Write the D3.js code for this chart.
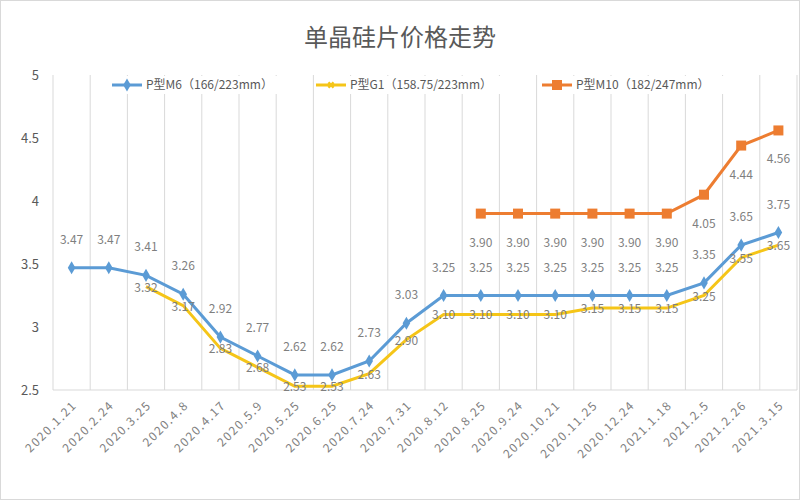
<!DOCTYPE html>
<html>
<head>
<meta charset="utf-8">
<script src="https://cdn.jsdelivr.net/npm/d3@7"></script>
<style>
body { margin: 0; background: #fff; }
text { font-family: "Noto Sans CJK SC", "Noto Sans", sans-serif; }
</style>
</head>
<body>
<svg id="chart" width="800" height="500"></svg>
<script>
const dates = ['2020.1.21', '2020.2.24', '2020.3.25', '2020.4.8', '2020.4.17', '2020.5.9', '2020.5.25',
	'2020.6.25', '2020.7.24', '2020.7.31', '2020.8.12', '2020.8.25', '2020.9.24', '2020.10.21',
	'2020.11.25', '2020.12.24', '2021.1.18', '2021.2.5', '2021.2.26', '2021.3.15'];
const m6 = [3.47, 3.47, 3.41, 3.26, 2.92, 2.77, 2.62, 2.62, 2.73, 3.03, 3.25, 3.25, 3.25, 3.25, 3.25, 3.25, 3.25, 3.35, 3.65, 3.75];
const g1 = [null, null, 3.32, 3.17, 2.83, 2.68, 2.53, 2.53, 2.63, 2.90, 3.10, 3.10, 3.10, 3.10, 3.15, 3.15, 3.15, 3.25, 3.55, 3.65];
const m10 = [null, null, null, null, null, null, null, null, null, null, null, 3.90, 3.90, 3.90, 3.90, 3.90, 3.90, 4.05, 4.44, 4.56];
const yTicks = [2.5, 3, 3.5, 4, 4.5, 5];

const series = [
	{ name: 'P型M6（166/223mm）', values: m6, color: '#5b9bd5', marker: 'diamond', dy: -24 },
	{ name: 'P型G1（158.75/223mm）', values: g1, color: '#f5c518', marker: 'star', dy: 5 },
	{ name: 'P型M10（182/247mm）', values: m10, color: '#ed7d31', marker: 'square', dy: 33 }
];

const svg = d3.select('#chart');
svg.append('rect').attr('x', 0.5).attr('y', 0.5).attr('width', 799).attr('height', 499)
	.attr('fill', '#fff').attr('stroke', '#d9d9d9');

svg.append('text').attr('x', 400).attr('y', 46).attr('text-anchor', 'middle')
	.attr('font-size', 24).attr('fill', '#595959').text('单晶硅片价格走势');

const left = 53, right = 797;
const x = d3.scaleBand().domain(dates).range([left, right]);
const y = d3.scaleLinear().domain([2.5, 5]).range([390, 75]);
const cx = d => x(d) + x.bandwidth() / 2;

// vertical gridlines between categories
svg.append('g').selectAll('line').data(dates.concat(['end']))
	.join('line')
	.attr('x1', (d, i) => left + i * x.step())
	.attr('x2', (d, i) => left + i * x.step())
	.attr('y1', y(5)).attr('y2', y(2.5))
	.attr('stroke', '#d9d9d9');

svg.append('line').attr('x1', left).attr('x2', right).attr('y1', y(2.5)).attr('y2', y(2.5)).attr('stroke', '#d9d9d9');

const yAxis = svg.append('g').attr('transform', `translate(${left},0)`)
	.call(d3.axisLeft(y).tickValues(yTicks).tickSize(0).tickPadding(14).tickFormat(d3.format('')));
yAxis.select('.domain').remove();
yAxis.selectAll('text').attr('font-size', 13).attr('fill', '#595959');

// x labels
svg.append('g').selectAll('text').data(dates).join('text')
	.attr('transform', d => `translate(${cx(d) + 6},${y(2.5) + 16}) rotate(-45)`)
	.attr('text-anchor', 'end').attr('font-size', 12).attr('fill', '#808080')
	.attr('letter-spacing', 1.5).text(d => d);

const line = d3.line().defined(d => d.v != null).x(d => cx(d.k)).y(d => y(d.v));

function drawMarker(g, type, color, px, py) {
	if (type === 'diamond') {
		g.append('path').attr('d', d3.symbol(d3.symbolDiamond, 50)()).attr('transform', `translate(${px},${py})`).attr('fill', color);
	} else if (type === 'square') {
		g.append('rect').attr('x', px - 5).attr('y', py - 5).attr('width', 10).attr('height', 10).attr('fill', color);
	} else {
		g.append('path').attr('d', d3.symbol(d3.symbolCross, 30)()).attr('transform', `translate(${px},${py}) rotate(45)`).attr('fill', color);
	}
}

series.forEach(s => {
	const pts = dates.map((k, i) => ({ k, v: s.values[i] }));
	svg.append('path').datum(pts).attr('d', line).attr('fill', 'none')
		.attr('stroke', s.color).attr('stroke-width', 3);
	const g = svg.append('g');
	pts.filter(p => p.v != null).forEach(p => {
		if (s.marker !== 'star') drawMarker(g, s.marker, s.color, cx(p.k), y(p.v));
	});
});

series.forEach(s => {
	dates.forEach((k, i) => {
		const v = s.values[i];
		if (v == null) return;
		svg.append('text').attr('x', cx(k)).attr('y', y(v) + s.dy)
			.attr('text-anchor', 'middle').attr('font-size', 12).attr('fill', '#7f7f7f')
			.text(v.toFixed(2));
	});
});

// legend
const legend = svg.append('g').attr('transform', 'translate(112,85)');
const lx = [0, 204, 430];
series.forEach((s, i) => {
	const g = legend.append('g').attr('transform', `translate(${lx[i]},0)`);
	g.append('rect').attr('x', -2).attr('y', -9).attr('width', s.name.length * 9 + 40).attr('height', 18).attr('fill', '#fff');
	g.append('line').attr('x1', 0).attr('x2', 30).attr('stroke', s.color).attr('stroke-width', 3);
	drawMarker(g, s.marker, s.color, 15, 0);
	g.append('text').attr('x', 34).attr('y', 4).attr('font-size', 12).attr('fill', '#595959').text(s.name);
});
</script>
</body>
</html>
